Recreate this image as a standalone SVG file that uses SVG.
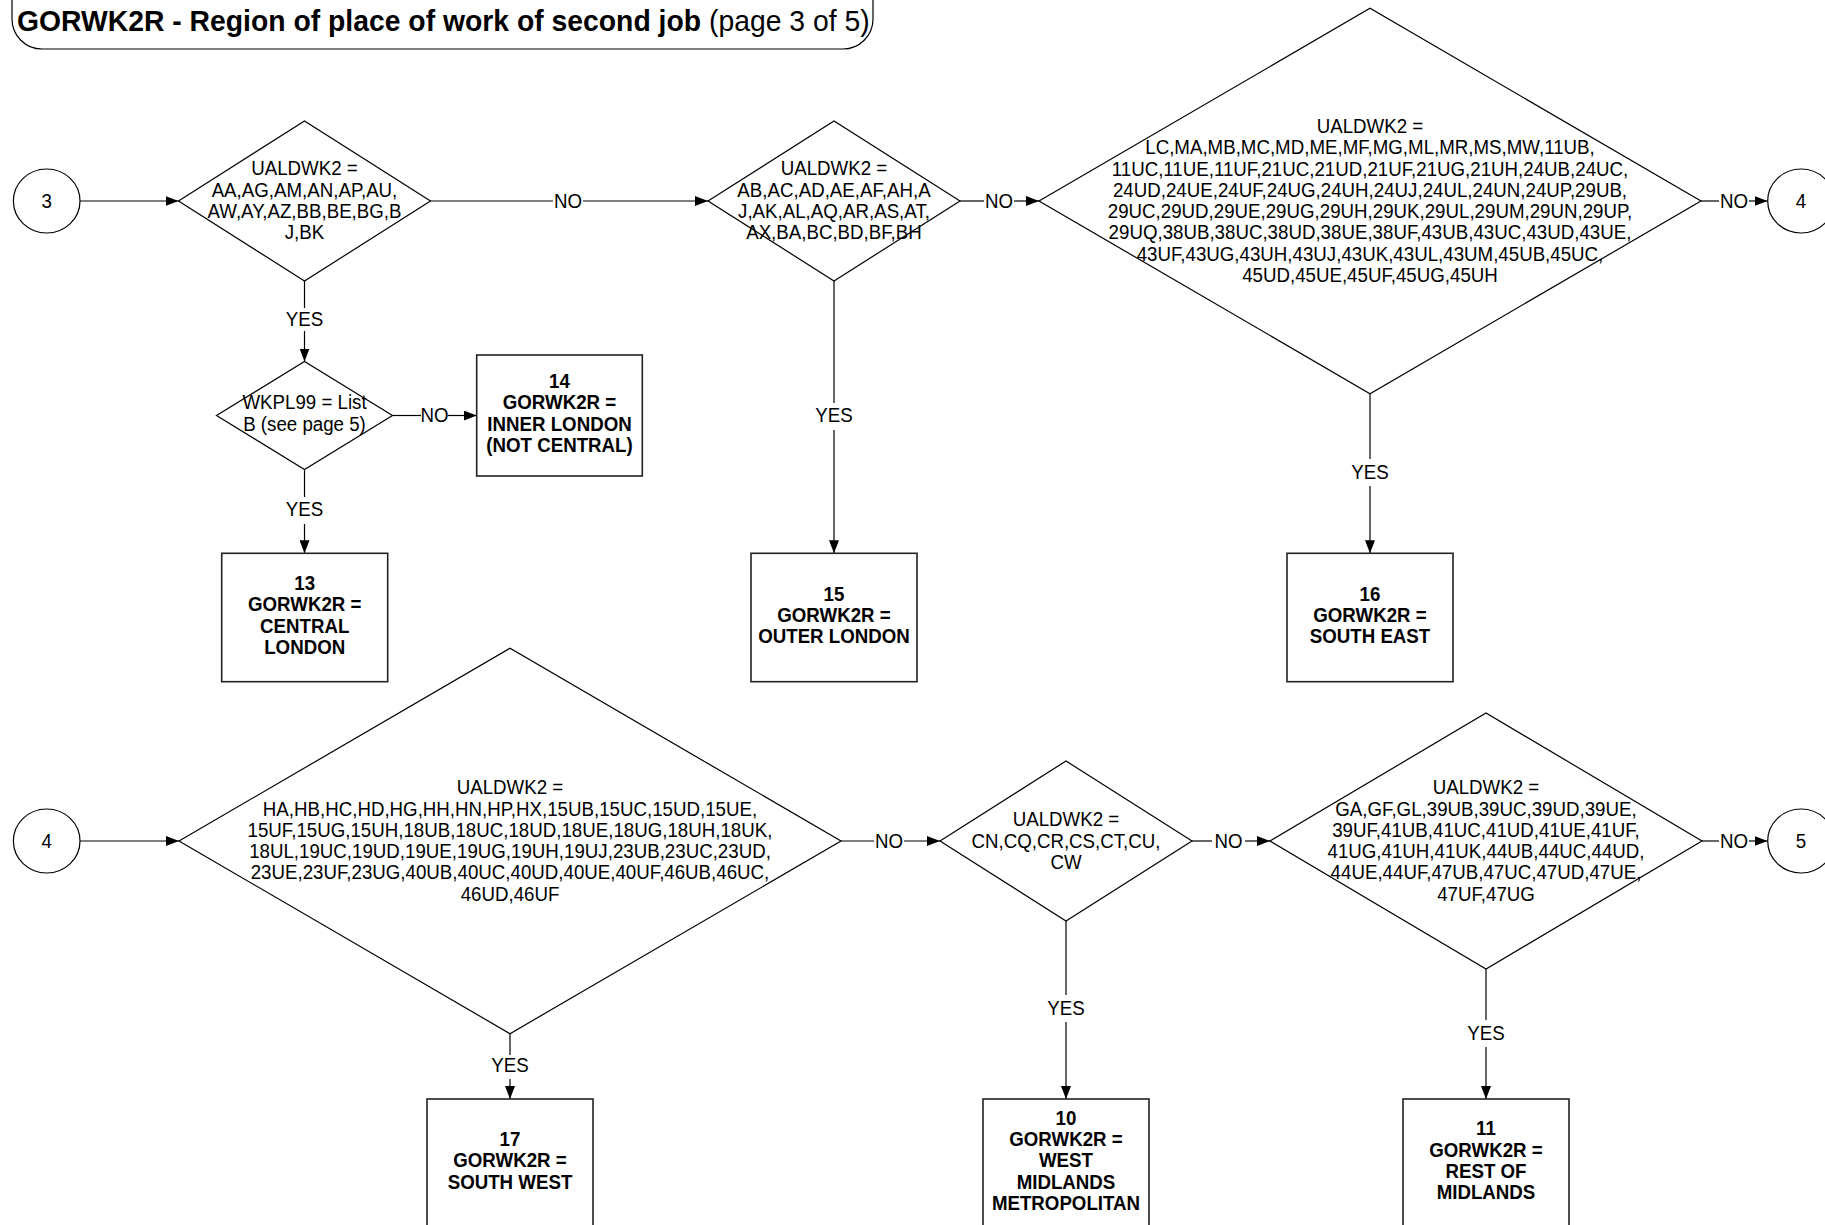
<svg xmlns="http://www.w3.org/2000/svg" width="1825" height="1225" viewBox="0 0 1825 1225">
<defs>
<style>
.t{font-family:"Liberation Sans",Arial,sans-serif;font-size:20px;fill:#000;text-anchor:middle}
.b{font-weight:bold}
.dm{fill:#fff;stroke:#000;stroke-width:1.2}
.bx{fill:#fff;stroke:#222;stroke-width:1.6}
.cn{fill:#fff;stroke:#000;stroke-width:1.2}
.ln{fill:none;stroke:#000;stroke-width:1.2}
.title{font-family:"Liberation Sans",Arial,sans-serif;font-size:30.3px;fill:#000}
</style>
<marker id="ah" markerUnits="userSpaceOnUse" markerWidth="13" markerHeight="10" refX="13" refY="5" orient="auto">
<path d="M0,0 L13,5 L0,10 z" fill="#000"/>
</marker>
</defs>
<rect width="1825" height="1225" fill="#fff"/>

<g id="title">
<rect x="12" y="-40" width="861" height="89" rx="30" ry="30" fill="#fff" stroke="#000" stroke-width="1.2"/>
<text class="title" x="17" y="31.5" transform="matrix(0.935 0 0 1 1.105 0)"><tspan font-weight="bold">GORWK2R - Region of place of work of second job</tspan> (page 3 of 5)</text>
</g>

<g id="connectors">
<line class="ln" x1="80" y1="201" x2="178.5" y2="201" marker-end="url(#ah)"/>
<line class="ln" x1="430.5" y1="201" x2="553" y2="201"/>
<line class="ln" x1="583" y1="201" x2="708" y2="201" marker-end="url(#ah)"/>
<text class="t" x="568" y="207.7" transform="matrix(0.935 0 0 1 36.92 0)">NO</text>
<line class="ln" x1="960" y1="201" x2="984" y2="201"/>
<line class="ln" x1="1014" y1="201" x2="1039" y2="201" marker-end="url(#ah)"/>
<text class="t" x="999" y="207.7" transform="matrix(0.935 0 0 1 64.935 0)">NO</text>
<line class="ln" x1="1701" y1="201" x2="1719" y2="201"/>
<line class="ln" x1="1749" y1="201" x2="1767.5" y2="201" marker-end="url(#ah)"/>
<text class="t" x="1734" y="207.7" transform="matrix(0.935 0 0 1 112.71 0)">NO</text>

<line class="ln" x1="304.5" y1="281" x2="304.5" y2="308"/>
<line class="ln" x1="304.5" y1="331" x2="304.5" y2="361.5" marker-end="url(#ah)"/>
<text class="t" x="304.5" y="326" transform="matrix(0.935 0 0 1 19.7925 0)">YES</text>
<line class="ln" x1="392.5" y1="415.5" x2="421" y2="415.5"/>
<line class="ln" x1="448" y1="415.5" x2="476.7" y2="415.5" marker-end="url(#ah)"/>
<text class="t" x="434.5" y="422" transform="matrix(0.935 0 0 1 28.2425 0)">NO</text>
<line class="ln" x1="304.5" y1="469.5" x2="304.5" y2="497"/>
<line class="ln" x1="304.5" y1="524" x2="304.5" y2="553.3" marker-end="url(#ah)"/>
<text class="t" x="304.5" y="516" transform="matrix(0.935 0 0 1 19.7925 0)">YES</text>
<line class="ln" x1="834" y1="281" x2="834" y2="403"/>
<line class="ln" x1="834" y1="430" x2="834" y2="553.3" marker-end="url(#ah)"/>
<text class="t" x="834" y="422.5" transform="matrix(0.935 0 0 1 54.21 0)">YES</text>
<line class="ln" x1="1370" y1="393.7" x2="1370" y2="459"/>
<line class="ln" x1="1370" y1="486" x2="1370" y2="553.3" marker-end="url(#ah)"/>
<text class="t" x="1370" y="479" transform="matrix(0.935 0 0 1 89.05 0)">YES</text>

<line class="ln" x1="80" y1="841" x2="179" y2="841" marker-end="url(#ah)"/>
<line class="ln" x1="841" y1="841" x2="874" y2="841"/>
<line class="ln" x1="904" y1="841" x2="940" y2="841" marker-end="url(#ah)"/>
<text class="t" x="889" y="847.7" transform="matrix(0.935 0 0 1 57.785 0)">NO</text>
<line class="ln" x1="1192" y1="841" x2="1212" y2="841"/>
<line class="ln" x1="1245" y1="841" x2="1270" y2="841" marker-end="url(#ah)"/>
<text class="t" x="1228.5" y="847.7" transform="matrix(0.935 0 0 1 79.8525 0)">NO</text>
<line class="ln" x1="1702" y1="841" x2="1719" y2="841"/>
<line class="ln" x1="1749" y1="841" x2="1767.5" y2="841" marker-end="url(#ah)"/>
<text class="t" x="1734" y="847.7" transform="matrix(0.935 0 0 1 112.71 0)">NO</text>
<line class="ln" x1="510" y1="1033.7" x2="510" y2="1055"/>
<line class="ln" x1="510" y1="1079" x2="510" y2="1099" marker-end="url(#ah)"/>
<text class="t" x="510" y="1072" transform="matrix(0.935 0 0 1 33.15 0)">YES</text>
<line class="ln" x1="1066" y1="921" x2="1066" y2="995"/>
<line class="ln" x1="1066" y1="1022" x2="1066" y2="1099" marker-end="url(#ah)"/>
<text class="t" x="1066" y="1015" transform="matrix(0.935 0 0 1 69.29 0)">YES</text>
<line class="ln" x1="1486" y1="969" x2="1486" y2="1020"/>
<line class="ln" x1="1486" y1="1047" x2="1486" y2="1099" marker-end="url(#ah)"/>
<text class="t" x="1486" y="1039.7" transform="matrix(0.935 0 0 1 96.59 0)">YES</text>
</g>

<g id="c3">
<ellipse class="cn" cx="46.7" cy="201" rx="33.3" ry="32"/>
<text class="t" x="46.7" y="208" transform="matrix(0.935 0 0 1 3.0355 0)">3</text>
</g>
<g id="c4a">
<ellipse class="cn" cx="1801" cy="201" rx="33.3" ry="32"/>
<text class="t" x="1801" y="208" transform="matrix(0.935 0 0 1 117.065 0)">4</text>
</g>
<g id="c4b">
<ellipse class="cn" cx="46.7" cy="841" rx="33.3" ry="32"/>
<text class="t" x="46.7" y="848" transform="matrix(0.935 0 0 1 3.0355 0)">4</text>
</g>
<g id="c5">
<ellipse class="cn" cx="1801" cy="841" rx="33.3" ry="32"/>
<text class="t" x="1801" y="848" transform="matrix(0.935 0 0 1 117.065 0)">5</text>
</g>

<g id="d1">
<polygon class="dm" points="178.5,201 304.5,121 430.5,201 304.5,281"/>
<text class="t" transform="matrix(0.935 0 0 1 19.7925 0)"><tspan x="304.5" y="175.5">UALDWK2 =</tspan><tspan x="304.5" y="196.8">AA,AG,AM,AN,AP,AU,</tspan><tspan x="304.5" y="218.1">AW,AY,AZ,BB,BE,BG,B</tspan><tspan x="304.5" y="239.4">J,BK</tspan></text>
</g>
<g id="d2">
<polygon class="dm" points="708,201 834,121 960,201 834,281"/>
<text class="t" transform="matrix(0.935 0 0 1 54.21 0)"><tspan x="834" y="175.5">UALDWK2 =</tspan><tspan x="834" y="196.8">AB,AC,AD,AE,AF,AH,A</tspan><tspan x="834" y="218.1">J,AK,AL,AQ,AR,AS,AT,</tspan><tspan x="834" y="239.4">AX,BA,BC,BD,BF,BH</tspan></text>
</g>
<g id="d3">
<polygon class="dm" points="1039,201 1370,8.3 1701,201 1370,393.7"/>
<text class="t" transform="matrix(0.935 0 0 1 89.05 0)"><tspan x="1370" y="133">UALDWK2 =</tspan><tspan x="1370" y="154.3">LC,MA,MB,MC,MD,ME,MF,MG,ML,MR,MS,MW,11UB,</tspan><tspan x="1370" y="175.6">11UC,11UE,11UF,21UC,21UD,21UF,21UG,21UH,24UB,24UC,</tspan><tspan x="1370" y="196.9">24UD,24UE,24UF,24UG,24UH,24UJ,24UL,24UN,24UP,29UB,</tspan><tspan x="1370" y="218.2">29UC,29UD,29UE,29UG,29UH,29UK,29UL,29UM,29UN,29UP,</tspan><tspan x="1370" y="239.5">29UQ,38UB,38UC,38UD,38UE,38UF,43UB,43UC,43UD,43UE,</tspan><tspan x="1370" y="260.8">43UF,43UG,43UH,43UJ,43UK,43UL,43UM,45UB,45UC,</tspan><tspan x="1370" y="282.1">45UD,45UE,45UF,45UG,45UH</tspan></text>
</g>
<g id="dwkpl">
<polygon class="dm" points="216.5,415.5 304.5,361.5 392.5,415.5 304.5,469.5"/>
<text class="t" transform="matrix(0.935 0 0 1 19.7925 0)"><tspan x="304.5" y="409.5">WKPL99 = List</tspan><tspan x="304.5" y="430.8">B (see page 5)</tspan></text>
</g>
<g id="d4">
<polygon class="dm" points="179,841 510,648.3 841,841 510,1033.7"/>
<text class="t" transform="matrix(0.935 0 0 1 33.15 0)"><tspan x="510" y="794.3">UALDWK2 =</tspan><tspan x="510" y="815.6">HA,HB,HC,HD,HG,HH,HN,HP,HX,15UB,15UC,15UD,15UE,</tspan><tspan x="510" y="836.9">15UF,15UG,15UH,18UB,18UC,18UD,18UE,18UG,18UH,18UK,</tspan><tspan x="510" y="858.2">18UL,19UC,19UD,19UE,19UG,19UH,19UJ,23UB,23UC,23UD,</tspan><tspan x="510" y="879.5">23UE,23UF,23UG,40UB,40UC,40UD,40UE,40UF,46UB,46UC,</tspan><tspan x="510" y="900.8">46UD,46UF</tspan></text>
</g>
<g id="d5">
<polygon class="dm" points="940,841 1066,761 1192,841 1066,921"/>
<text class="t" transform="matrix(0.935 0 0 1 69.29 0)"><tspan x="1066" y="826.4">UALDWK2 =</tspan><tspan x="1066" y="847.7">CN,CQ,CR,CS,CT,CU,</tspan><tspan x="1066" y="869">CW</tspan></text>
</g>
<g id="d6">
<polygon class="dm" points="1270,841 1486,713 1702,841 1486,969"/>
<text class="t" transform="matrix(0.935 0 0 1 96.59 0)"><tspan x="1486" y="794.3">UALDWK2 =</tspan><tspan x="1486" y="815.6">GA,GF,GL,39UB,39UC,39UD,39UE,</tspan><tspan x="1486" y="836.9">39UF,41UB,41UC,41UD,41UE,41UF,</tspan><tspan x="1486" y="858.2">41UG,41UH,41UK,44UB,44UC,44UD,</tspan><tspan x="1486" y="879.5">44UE,44UF,47UB,47UC,47UD,47UE,</tspan><tspan x="1486" y="900.8">47UF,47UG</tspan></text>
</g>

<g id="b14">
<rect class="bx" x="476.7" y="355" width="165.6" height="121"/>
<text class="t b" transform="matrix(0.935 0 0 1 36.3675 0)"><tspan x="559.5" y="388">14</tspan><tspan x="559.5" y="409.3">GORWK2R =</tspan><tspan x="559.5" y="430.6">INNER LONDON</tspan><tspan x="559.5" y="451.9">(NOT CENTRAL)</tspan></text>
</g>
<g id="b13">
<rect class="bx" x="221.7" y="553.3" width="166" height="128.4"/>
<text class="t b" transform="matrix(0.935 0 0 1 19.8055 0)"><tspan x="304.7" y="590">13</tspan><tspan x="304.7" y="611.3">GORWK2R =</tspan><tspan x="304.7" y="632.6">CENTRAL</tspan><tspan x="304.7" y="653.9">LONDON</tspan></text>
</g>
<g id="b15">
<rect class="bx" x="751" y="553.3" width="166" height="128.4"/>
<text class="t b" transform="matrix(0.935 0 0 1 54.21 0)"><tspan x="834" y="600.7">15</tspan><tspan x="834" y="622">GORWK2R =</tspan><tspan x="834" y="643.3">OUTER LONDON</tspan></text>
</g>
<g id="b16">
<rect class="bx" x="1287" y="553.3" width="166" height="128.4"/>
<text class="t b" transform="matrix(0.935 0 0 1 89.05 0)"><tspan x="1370" y="600.7">16</tspan><tspan x="1370" y="622">GORWK2R =</tspan><tspan x="1370" y="643.3">SOUTH EAST</tspan></text>
</g>
<g id="b17">
<rect class="bx" x="427" y="1099" width="166" height="128.4"/>
<text class="t b" transform="matrix(0.935 0 0 1 33.15 0)"><tspan x="510" y="1146.2">17</tspan><tspan x="510" y="1167.5">GORWK2R =</tspan><tspan x="510" y="1188.8">SOUTH WEST</tspan></text>
</g>
<g id="b10">
<rect class="bx" x="983" y="1099" width="166" height="128.4"/>
<text class="t b" transform="matrix(0.935 0 0 1 69.29 0)"><tspan x="1066" y="1124.9">10</tspan><tspan x="1066" y="1146.2">GORWK2R =</tspan><tspan x="1066" y="1167.5">WEST</tspan><tspan x="1066" y="1188.8">MIDLANDS</tspan><tspan x="1066" y="1210.1">METROPOLITAN</tspan></text>
</g>
<g id="b11">
<rect class="bx" x="1403" y="1099" width="166" height="128.4"/>
<text class="t b" transform="matrix(0.935 0 0 1 96.59 0)"><tspan x="1486" y="1135.5">11</tspan><tspan x="1486" y="1156.8">GORWK2R =</tspan><tspan x="1486" y="1178.1">REST OF</tspan><tspan x="1486" y="1199.4">MIDLANDS</tspan></text>
</g>
</svg>
